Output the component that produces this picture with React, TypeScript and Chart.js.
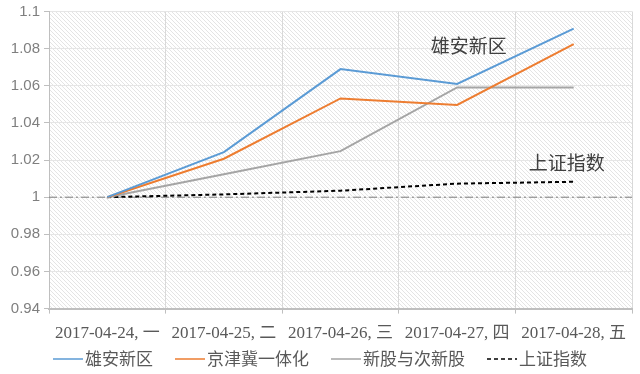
import React, { useEffect, useRef } from "react";
import { Chart, registerables } from "chart.js";

Chart.register(...registerables);

const categories = [
  "2017-04-24, 一",
  "2017-04-25, 二",
  "2017-04-26, 三",
  "2017-04-27, 四",
  "2017-04-28, 五",
];
const xiongan = [1.0, 1.0243, 1.069, 1.061, 1.0908];
const jingjinji = [1.0, 1.0207, 1.0532, 1.0497, 1.0824];
const newStocks = [1.0, 1.0124, 1.0248, 1.0591, 1.0591];
const shanghai = [1.0, 1.0015, 1.0035, 1.0073, 1.0083];
const seriesNames = ["雄安新区", "京津冀一体化", "新股与次新股", "上证指数"];
const yMin = 0.94;
const yMax = 1.1;
const yStep = 0.02;
const baselineValue = 1;
const annotationTexts = ["雄安新区", "上证指数"];
const annotationX = [3.1, 3.94];
const annotationY = [1.0813, 1.0184];

const CJK = '"Liberation Serif", "Noto Sans CJK SC", serif';

function makePattern(ctx: CanvasRenderingContext2D) {
  const c = document.createElement("canvas");
  c.width = 4;
  c.height = 4;
  const p = c.getContext("2d")!;
  p.fillStyle = "#ffffff";
  p.fillRect(0, 0, 4, 4);
  p.strokeStyle = "#e4e4e4";
  p.lineWidth = 1;
  p.beginPath();
  p.moveTo(0, 0);
  p.lineTo(4, 4);
  p.stroke();
  return ctx.createPattern(c, "repeat");
}

const bgPlugin = {
  id: "bgPlugin",
  beforeDraw(chart: any) {
    const { ctx, chartArea } = chart;
    ctx.save();
    ctx.fillStyle = "#ffffff";
    ctx.fillRect(0, 0, chart.width, chart.height);
    const pat = makePattern(ctx);
    if (pat) {
      ctx.fillStyle = pat;
      ctx.fillRect(chartArea.left, chartArea.top, chartArea.right - chartArea.left, chartArea.bottom - chartArea.top);
    }
    ctx.restore();
  },
  beforeDatasetsDraw(chart: any) {
    const { ctx, chartArea } = chart;
    const y = chart.scales.y.getPixelForValue(baselineValue);
    ctx.save();
    ctx.strokeStyle = "#7f7f7f";
    ctx.lineWidth = 1;
    ctx.setLineDash([8, 3, 2, 3]);
    ctx.beginPath();
    ctx.moveTo(chartArea.left, y);
    ctx.lineTo(chartArea.right, y);
    ctx.stroke();
    ctx.restore();
  },
  afterDraw(chart: any) {
    const { ctx } = chart;
    ctx.save();
    ctx.fillStyle = "#404040";
    ctx.font = '19px "Noto Sans CJK SC"';
    ctx.textAlign = "center";
    ctx.textBaseline = "middle";
    annotationTexts.forEach((t, i) => {
      const x = chart.scales.x.getPixelForValue(annotationX[i]);
      const y = chart.scales.y.getPixelForValue(annotationY[i]);
      ctx.fillText(t, x, y);
    });

    // legend
    const lineW = 30;
    const gap = 2;
    const itemGap = 22;
    ctx.font = '17px "Noto Sans CJK SC"';
    const dsets = chart.data.datasets;
    const widths = dsets.map((d: any) => lineW + gap + ctx.measureText(d.label).width);
    const total = widths.reduce((a: number, b: number) => a + b, 0) + itemGap * (dsets.length - 1);
    let x = (chart.width - total) / 2;
    const y = chart.height - 15;
    ctx.textAlign = "left";
    ctx.fillStyle = "#595959";
    dsets.forEach((d: any, i: number) => {
      ctx.strokeStyle = d.borderColor;
      ctx.lineWidth = 1.5;
      ctx.setLineDash(d.borderDash || []);
      ctx.beginPath();
      ctx.moveTo(x, y);
      ctx.lineTo(x + lineW, y);
      ctx.stroke();
      ctx.setLineDash([]);
      ctx.fillText(d.label, x + lineW + gap, y);
      x += widths[i] + itemGap;
    });
    ctx.restore();
  },
};

export default function App() {
  const ref = useRef<HTMLCanvasElement | null>(null);
  useEffect(() => {
    document.body.style.margin = "0";
    const chart = new Chart(ref.current!, {
      type: "line",
      data: {
        labels: categories,
        datasets: [
          { label: seriesNames[0], data: xiongan, borderColor: "#5b9bd5", backgroundColor: "#5b9bd5", borderWidth: 2 },
          { label: seriesNames[1], data: jingjinji, borderColor: "#ed7d31", backgroundColor: "#ed7d31", borderWidth: 2 },
          { label: seriesNames[2], data: newStocks, borderColor: "#a5a5a5", backgroundColor: "#a5a5a5", borderWidth: 2 },
          { label: seriesNames[3], data: shanghai, borderColor: "#000000", backgroundColor: "#000000", borderWidth: 2, borderDash: [4, 3] },
        ],
      },
      options: {
        animation: false,
        responsive: false,
        maintainAspectRatio: false,
        elements: { point: { radius: 0 }, line: { tension: 0 } },
        layout: { padding: { top: 2, right: 8, left: 0, bottom: 20 } },
        plugins: {
          tooltip: { enabled: false },
          legend: { display: false },
        },
        scales: {
          x: {
            offset: true,
            grid: { offset: true, color: "#d9d9d9", tickColor: "#bfbfbf", tickLength: 5 },
            border: { color: "#bfbfbf", width: 2 },
            ticks: { color: "#595959", font: { family: CJK, size: 17 }, maxRotation: 0, autoSkip: false, padding: 10 },
          },
          y: {
            min: yMin,
            max: yMax,
            grid: { color: "#e6e6e6", tickColor: "#bfbfbf", tickLength: 5 },
            border: { color: "#bfbfbf", width: 1 },
            ticks: {
              stepSize: yStep,
              color: "#7f7f7f",
              font: { family: '"Liberation Sans", sans-serif', size: 15, lineHeight: 1 },
              padding: 4,
              callback: (v: any) => String(Number(Number(v).toFixed(2))),
            },
            afterFit: (s: any) => {
              s.width = 49;
            },
          },
        },
      },
      plugins: [bgPlugin],
    });
    return () => chart.destroy();
  }, []);
  return (
    <div style={{ position: "fixed", left: 0, top: 0, width: 640, height: 374 }}>
      <canvas ref={ref} width={640} height={374} style={{ width: 640, height: 374 }} />
    </div>
  );
}
